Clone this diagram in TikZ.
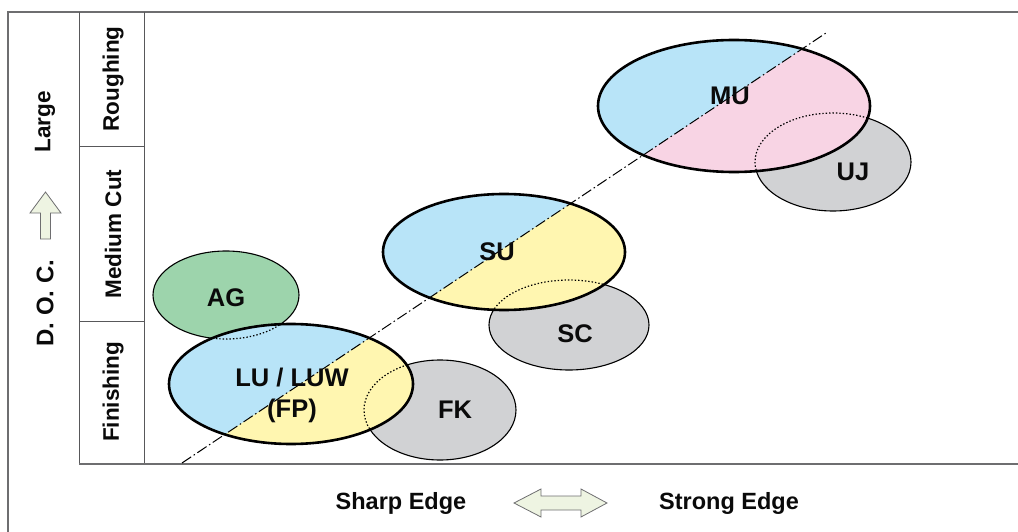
\documentclass[tikz,border=0pt]{standalone}
\usepackage{fontspec}
\setmainfont{Liberation Sans}
\usetikzlibrary{calc}
\definecolor{cblue}{RGB}{184,228,248}
\definecolor{cpink}{RGB}{248,212,228}
\definecolor{cyellow}{RGB}{255,246,176}
\definecolor{cgray}{RGB}{209,210,212}
\definecolor{cgreen}{RGB}{157,212,172}
\definecolor{cframe}{RGB}{110,110,112}
\definecolor{carrow}{RGB}{238,244,226}
\definecolor{ctext}{RGB}{10,10,10}
\tikzset{
  under/.style={fill=cgray, draw=black, line width=1.1pt},
  bigline/.style={draw=black, line width=2.6pt},
  hidden/.style={draw=black, line width=1.2pt, dash pattern=on 1.4pt off 2pt},
  axisline/.style={dashed, dash pattern=on 11pt off 3pt on 1.5pt off 3pt, line width=1pt},
  frameline/.style={draw=cframe, line width=1.5pt},
  gridline/.style={draw=cframe!80!black, line width=1pt},
  blockarrow/.style={fill=carrow, draw=cframe, line width=0.8pt, line join=miter},
  lbl/.style={font=\bfseries\fontsize{25.5}{25.5}\selectfont, text=ctext, inner sep=0pt},
  side/.style={font=\bfseries\fontsize{22.5}{22.5}\selectfont, text=ctext, inner sep=0pt, rotate=90},
  axislbl/.style={font=\bfseries\fontsize{23.5}{23.5}\selectfont, text=ctext, inner sep=0pt}
}
\begin{document}
\begin{tikzpicture}[x=1pt,y=-1pt]
\useasboundingbox (0,0) rectangle (1018,532);
% frame
\draw[frameline] (8,532) -- (8,12) -- (1018,12);
% left column
\draw[gridline] (79,12) -- (79,464);
\draw[gridline] (144,12) -- (144,464);
\draw[gridline] (79,147) -- (144,147);
\draw[gridline] (79,321) -- (144,321);
\draw[frameline] (79,464) -- (1018,464);

% centres
\coordinate (muC) at (734,106);
\coordinate (ujC) at (833,162);
\coordinate (suC) at (504,252);
\coordinate (scC) at (569,325);
\coordinate (agC) at (226,295);
\coordinate (luC) at (291,384);
\coordinate (fkC) at (440,410);
\coordinate (dA) at (182,463);
\coordinate (dB) at (826,33);
\coordinate (e1) at ($(dA)!-1!(dB)$);
\coordinate (e2) at ($(dA)!2!(dB)$);

% underlying ellipses
\path[under] (ujC) ellipse [x radius=78, y radius=49];
\path[under] (scC) ellipse [x radius=80, y radius=45];
\path[under] (fkC) ellipse [x radius=76, y radius=50];
\path[under, fill=cgreen] (agC) ellipse [x radius=73, y radius=44];

% big ellipses: fills
\fill[cpink] (muC) ellipse [x radius=136, y radius=66];
\fill[cyellow] (suC) ellipse [x radius=121, y radius=58];
\fill[cyellow] (luC) ellipse [x radius=122, y radius=60];
\begin{scope}
  \clip (muC) ellipse [x radius=136, y radius=66];
  \fill[cblue] (e1) -- (e2) -- ++(0,-2000) -- ($(e1)+(0,-2000)$) -- cycle;
  \draw[hidden] (ujC) ellipse [x radius=78, y radius=49];
\end{scope}
\begin{scope}
  \clip (suC) ellipse [x radius=121, y radius=58];
  \fill[cblue] (e1) -- (e2) -- ++(0,-2000) -- ($(e1)+(0,-2000)$) -- cycle;
  \draw[hidden] (scC) ellipse [x radius=80, y radius=45];
\end{scope}
\begin{scope}
  \clip (luC) ellipse [x radius=122, y radius=60];
  \fill[cblue] (e1) -- (e2) -- ++(0,-2000) -- ($(e1)+(0,-2000)$) -- cycle;
  \draw[hidden] (fkC) ellipse [x radius=76, y radius=50];
  \draw[hidden] (agC) ellipse [x radius=73, y radius=44];
\end{scope}

% dash-dot diagonal
\draw[axisline] (dA) -- (dB);

% big ellipse borders
\draw[bigline] (muC) ellipse [x radius=136, y radius=66];
\draw[bigline] (suC) ellipse [x radius=121, y radius=58];
\draw[bigline] (luC) ellipse [x radius=122, y radius=60];

% labels
\node[lbl] (mu) at (730,96) {MU};
\node[lbl] (uj) at (853,172) {UJ};
\node[lbl] (su) at (497,252) {SU};
\node[lbl] (sc) at (575,334) {SC};
\node[lbl] (ag) at (226,298) {AG};
\node[lbl] (fk) at (455,410) {FK};
\node[lbl] (lu) at (292,378) {LU / LUW};
\node[lbl] (fp) at (292,411) {(FP)};

% side labels
\node[side] (rough) at (113,79) {Roughing};
\node[side] (med) at (113,234) {Medium Cut};
\node[side] (fin) at (113,392) {Finishing};
\node[side, font=\bfseries\fontsize{24}{24}\selectfont] (doc) at (45,303) {D. O. C.};
\node[side] (large) at (45,122) {Large};

% up arrow
\draw[blockarrow] (45.5,192) -- (61,213) -- (50.5,213) -- (50.5,239) -- (40.5,239) -- (40.5,213) -- (30,213) -- cycle;

% bottom labels and double arrow
\node[axislbl] (sharp) at (401,503) {Sharp Edge};
\node[axislbl] (strong) at (729,503) {Strong Edge};
\draw[blockarrow] (514,503) -- (541,489) -- (541,496) -- (581,496) -- (581,489) -- (607,503) -- (581,517) -- (581,510) -- (541,510) -- (541,517) -- cycle;
\end{tikzpicture}
\end{document}
